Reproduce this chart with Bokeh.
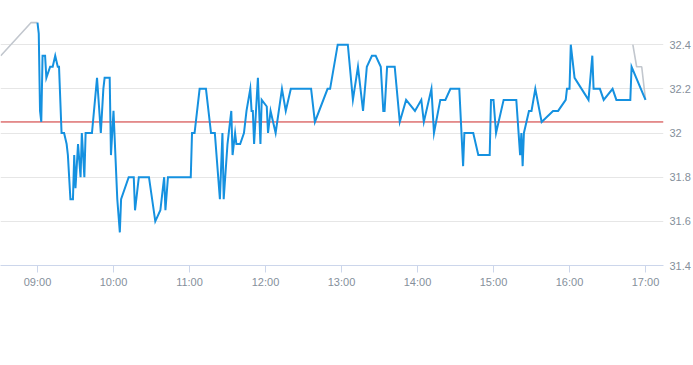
from bokeh.plotting import figure
from bokeh.models import FixedTicker, Span, Range1d
from bokeh.embed import file_html
from bokeh.resources import INLINE

# ---- data ----
pre_times = ["08:31", "08:55", "09:00"]
pre_prices = [32.35, 32.50, 32.50]

times = [
    "09:00", "09:01", "09:02", "09:03", "09:04", "09:06", "09:07", "09:10", "09:12", "09:14",
    "09:16", "09:17", "09:19", "09:21", "09:23", "09:24", "09:26", "09:28", "09:29", "09:30",
    "09:32", "09:34", "09:35", "09:37", "09:38", "09:43", "09:47", "09:50", "09:52", "09:53",
    "09:57", "09:58", "10:00", "10:03", "10:05", "10:06", "10:12", "10:16", "10:17", "10:20",
    "10:28", "10:33", "10:37", "10:40", "10:41", "10:43", "11:01", "11:02", "11:04", "11:08",
    "11:13", "11:17", "11:20", "11:24", "11:26", "11:27", "11:30", "11:33", "11:34", "11:36",
    "11:37", "11:40", "11:43", "11:45", "11:48", "11:49", "11:50", "11:51", "11:54", "11:56",
    "11:57", "12:01", "12:02", "12:04", "12:06", "12:08", "12:13", "12:16", "12:20", "12:36",
    "12:39", "12:49", "12:51", "12:57", "13:05", "13:09", "13:13", "13:17", "13:20", "13:24",
    "13:27", "13:31", "13:33", "13:34", "13:36", "13:42", "13:46", "13:51", "13:58", "14:03",
    "14:05", "14:11", "14:13", "14:18", "14:22", "14:26", "14:33", "14:36", "14:37", "14:44",
    "14:48", "14:57", "14:58", "15:00", "15:02", "15:08", "15:18", "15:21", "15:22", "15:23",
    "15:24", "15:28", "15:30", "15:33", "15:38", "15:47", "15:51", "15:57", "15:58", "16:00",
    "16:01", "16:04", "16:15", "16:18", "16:19", "16:24", "16:27", "16:34", "16:37", "16:48",
    "16:49", "17:00",
]
prices = [
    32.50, 32.45, 32.10, 32.05, 32.35, 32.35, 32.25, 32.30, 32.30, 32.35,
    32.30, 32.30, 32.00, 32.00, 31.95, 31.90, 31.70, 31.70, 31.90, 31.75,
    31.95, 31.80, 32.00, 31.80, 32.00, 32.00, 32.25, 32.00, 32.20, 32.25,
    32.25, 31.90, 32.10, 31.70, 31.55, 31.70, 31.80, 31.80, 31.65, 31.80,
    31.80, 31.60, 31.65, 31.80, 31.65, 31.80, 31.80, 32.00, 32.00, 32.20,
    32.20, 32.00, 32.00, 31.70, 32.00, 31.70, 31.95, 32.10, 31.90, 32.00,
    31.95, 31.95, 32.00, 32.10, 32.20, 32.10, 32.10, 31.95, 32.25, 31.95,
    32.15, 32.12, 32.00, 32.10, 32.05, 32.00, 32.20, 32.10, 32.20, 32.20,
    32.05, 32.20, 32.20, 32.40, 32.40, 32.15, 32.30, 32.10, 32.30, 32.35,
    32.35, 32.30, 32.10, 32.10, 32.30, 32.30, 32.05, 32.15, 32.10, 32.15,
    32.05, 32.20, 32.00, 32.15, 32.15, 32.20, 32.20, 31.85, 32.00, 32.00,
    31.90, 31.90, 32.15, 32.15, 32.00, 32.15, 32.15, 31.90, 32.00, 31.85,
    32.00, 32.10, 32.10, 32.20, 32.05, 32.10, 32.10, 32.15, 32.20, 32.20,
    32.40, 32.25, 32.15, 32.35, 32.20, 32.20, 32.15, 32.20, 32.15, 32.15,
    32.30, 32.15,
]

post_times = ["16:50", "16:53", "16:57", "17:00"]
post_prices = [32.40, 32.30, 32.30, 32.15]

prev_close = 32.05

x_tick_labels = ["09:00", "10:00", "11:00", "12:00", "13:00", "14:00", "15:00", "16:00", "17:00"]
y_ticks = [31.4, 31.6, 31.8, 32.0, 32.2, 32.4]
y_tick_labels = ["31.4", "31.6", "31.8", "32", "32.2", "32.4"]


def to_min(s):
    h, m = s.split(":")
    return int(h) * 60 + int(m)


x_ticks = [to_min(t) for t in x_tick_labels]

FONT = "Liberation Sans"
LABEL_COLOR = "#858f9b"

p = figure(
    width=693, height=357,
    x_range=Range1d(510.8, 1034.2),
    y_range=Range1d(31.4, 32.6),
    y_axis_location="right",
    output_backend="svg",
    toolbar_location=None,
    min_border_left=0, min_border_top=0,
    min_border_right=30, min_border_bottom=92,
    outline_line_color=None,
    background_fill_color="white",
    border_fill_color="white",
    margin=(0, 0, 0, 0),
)

# grid
p.xgrid.visible = False
p.ygrid.ticker = FixedTicker(ticks=y_ticks)
p.ygrid.grid_line_color = "#e6e6e6"
p.ygrid.grid_line_width = 1

# x axis
p.xaxis.ticker = FixedTicker(ticks=x_ticks)
p.xaxis.major_label_overrides = {k: v for k, v in zip(x_ticks, x_tick_labels)}
p.xaxis.axis_line_color = "#ccd6eb"
p.xaxis.major_tick_line_color = "#ccd6eb"
p.xaxis.major_tick_out = 7
p.xaxis.major_tick_in = 0
p.xaxis.minor_tick_line_color = None
p.xaxis.major_label_standoff = 3
p.xaxis.major_label_text_font = FONT
p.xaxis.major_label_text_font_size = "11px"
p.xaxis.major_label_text_color = LABEL_COLOR

# y axis (right)
p.yaxis.ticker = FixedTicker(ticks=y_ticks)
p.yaxis.major_label_overrides = {k: v for k, v in zip(y_ticks, y_tick_labels)}
p.yaxis.axis_line_color = None
p.yaxis.major_tick_line_color = None
p.yaxis.minor_tick_line_color = None
p.yaxis.major_tick_out = 0
p.yaxis.major_tick_in = 0
p.yaxis.major_label_standoff = 6
p.yaxis.major_label_text_font = FONT
p.yaxis.major_label_text_font_size = "11px"
p.yaxis.major_label_text_color = LABEL_COLOR

# previous close line
p.add_layout(Span(location=prev_close, dimension="width", line_color="#cc2a2a",
                  line_width=1, level="underlay"))

# extended-hours lines (grey)
p.line([to_min(t) for t in pre_times], pre_prices, line_color="#c2c7ce", line_width=1.6)
p.line([to_min(t) for t in post_times], post_prices, line_color="#c2c7ce", line_width=1.6)

# main session line (blue)
p.line([to_min(t) for t in times], prices, line_color="#1591e0", line_width=2,
       line_join="miter")

open("out.html", "w").write(file_html(p, INLINE))
